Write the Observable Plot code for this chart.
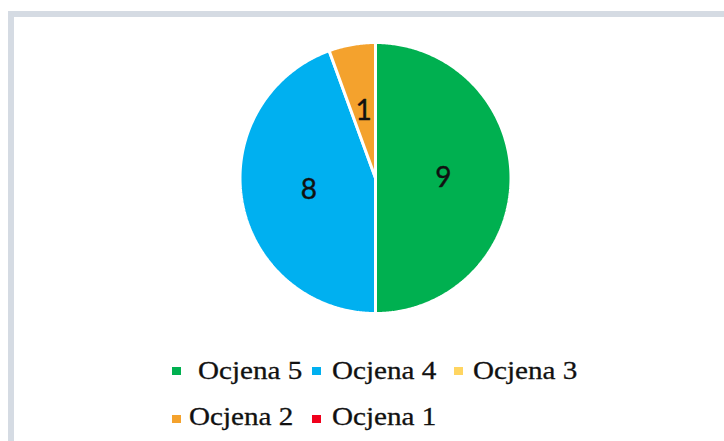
<!DOCTYPE html>
<html>
<head>
<meta charset="utf-8">
<script src="https://cdn.jsdelivr.net/npm/d3@7"></script>
<script src="https://cdn.jsdelivr.net/npm/@observablehq/plot@0.6"></script>
<style>
  html, body { margin: 0; padding: 0; background: #fff; }
  #page { position: relative; width: 724px; height: 441px; overflow: hidden; background: #fff; }
  .band { position: absolute; background: #d5dbe3; }
  #chart { position: absolute; left: 0; top: 0; }
  .item { position: absolute; font-family: "Liberation Serif", "Times New Roman", serif; font-size: 26px; color: #111; white-space: nowrap; line-height: 1; transform: scaleX(1.12); transform-origin: 0 0; -webkit-text-stroke: 0.3px #111; }
  .sw { position: absolute; width: 9px; height: 8px; }
</style>
</head>
<body>
<div id="page">
  <div class="band" style="left:8px;top:11px;width:716px;height:6px"></div>
  <div class="band" style="left:8px;top:11px;width:6px;height:430px"></div>
  <div id="chart"></div>
  <div id="legend"></div>
</div>
<script>
// Data
const categories = ["Ocjena 5", "Ocjena 4", "Ocjena 3", "Ocjena 2", "Ocjena 1"];
const values = [9, 8, 0, 1, 0];
const colors = ["#00b050", "#00b0f0", "#ffd561", "#f4a22d", "#f0001c"];

const rows = categories.map((c, i) => ({name: c, value: values[i]}));
const arcs = d3.pie().sort(null).value(d => d.value)(rows).filter(a => a.data.value > 0);

// slice polygons in unit-circle coordinates (clockwise from top)
const poly = [];
for (const a of arcs) {
  poly.push({name: a.data.name, x: 0, y: 0});
  const n = Math.max(2, Math.ceil((a.endAngle - a.startAngle) / 0.01));
  for (let k = 0; k <= n; k++) {
    const t = a.startAngle + (a.endAngle - a.startAngle) * k / n;
    poly.push({name: a.data.name, x: Math.sin(t), y: Math.cos(t)});
  }
  poly.push({name: a.data.name, x: 0, y: 0});
}
const labels = arcs.map(a => {
  const m = (a.startAngle + a.endAngle) / 2;
  return {name: a.data.name, value: a.data.value, x: 0.5 * Math.sin(m), y: 0.5 * Math.cos(m)};
});

const W = 724, H = 330, cx = 375, cy = 177.5, r = 135.5;
const chart = Plot.plot({
  width: W, height: H,
  marginLeft: cx - r, marginRight: W - (cx + r),
  marginTop: cy - r, marginBottom: H - (cy + r),
  x: {domain: [-1, 1], axis: null},
  y: {domain: [-1, 1], axis: null},
  color: {domain: categories, range: colors},
  style: {background: "transparent", overflow: "visible"},
  marks: [
    Plot.line(poly, {x: "x", y: "y", z: "name", fill: "name", stroke: "white", strokeWidth: 3, strokeLinejoin: "miter", curve: "linear-closed"}),
    Plot.text(labels, {x: "x", y: "y", text: d => String(d.value), fontSize: 28, fontFamily: "Lato, 'Open Sans', sans-serif", fill: "#111", stroke: "#111", strokeWidth: 0.4})
  ]
});
document.getElementById("chart").appendChild(chart);

// Legend (HTML below the pie)
const legendPos = [
  {sx: 172, sy: 367, tx: 198, ty: 358},
  {sx: 312, sy: 367, tx: 332, ty: 358},
  {sx: 454, sy: 367, tx: 473, ty: 358},
  {sx: 172, sy: 415, tx: 189, ty: 404},
  {sx: 312, sy: 415, tx: 332, ty: 404}
];
const legend = document.getElementById("legend");
categories.forEach((c, i) => {
  const p = legendPos[i];
  const sw = document.createElement("div");
  sw.className = "sw";
  sw.style.left = p.sx + "px"; sw.style.top = p.sy + "px"; sw.style.background = colors[i];
  legend.appendChild(sw);
  const t = document.createElement("div");
  t.className = "item";
  t.style.left = p.tx + "px"; t.style.top = p.ty + "px";
  t.textContent = c;
  legend.appendChild(t);
});
</script>
</body>
</html>
